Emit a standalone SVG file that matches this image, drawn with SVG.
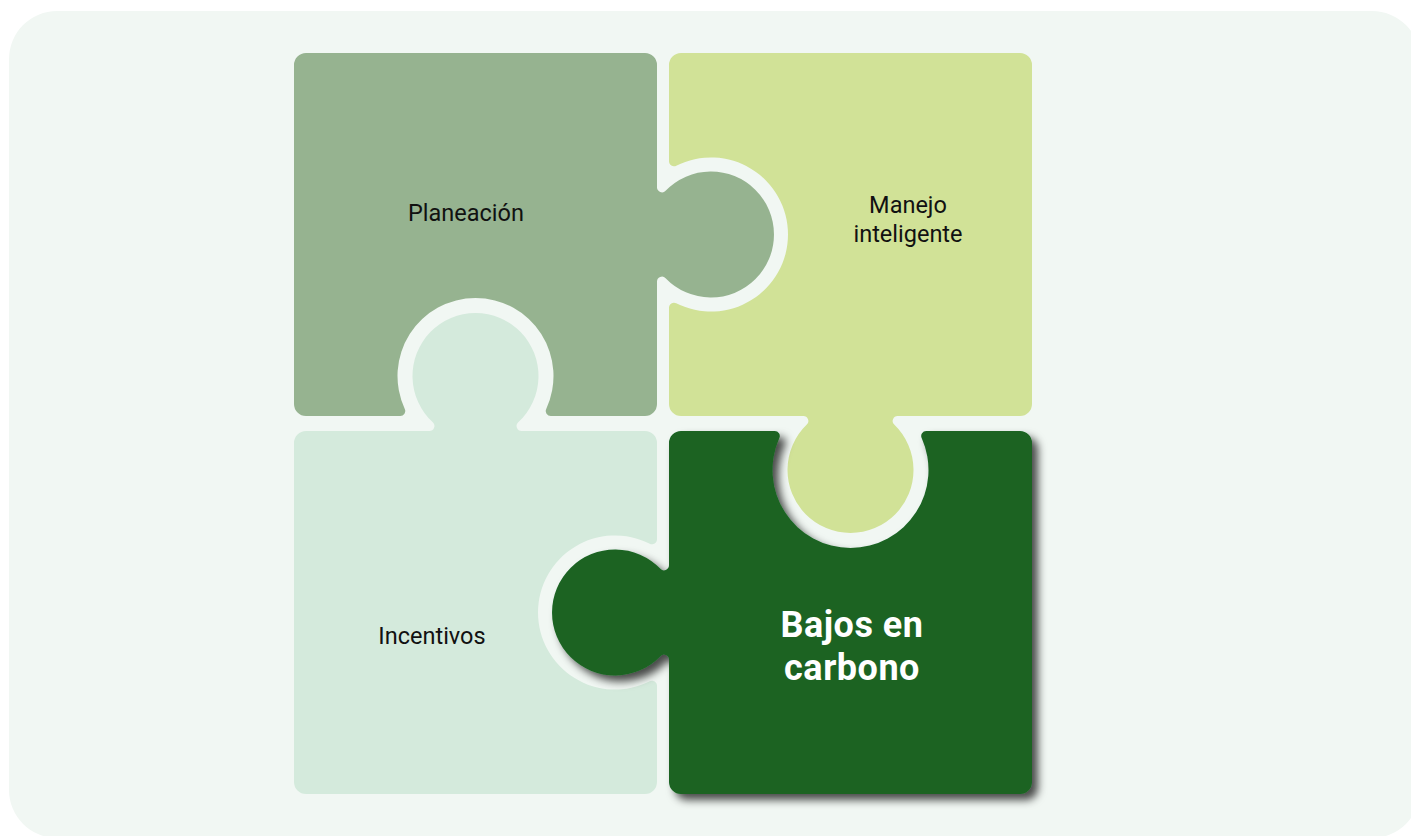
<svg xmlns="http://www.w3.org/2000/svg" width="1411" height="836" viewBox="0 0 1411 836">
<defs>
<style>
.lbl{font-family:Roboto,"Liberation Sans",sans-serif;font-size:23.5px;fill:#111111;text-anchor:middle}
.big{font-family:Roboto,"Liberation Sans",sans-serif;font-size:36px;font-weight:bold;fill:#ffffff;text-anchor:middle;letter-spacing:0.5px}
</style>
<filter id="sh" x="-10%" y="-10%" width="130%" height="130%">
<feDropShadow dx="6" dy="6" stdDeviation="4.5" flood-color="#000" flood-opacity="0.7"/>
</filter>
</defs>
<rect x="0" y="0" width="1411" height="836" fill="#ffffff"/>
<rect x="9" y="11" width="1411" height="827" rx="48" fill="#f1f7f3"/>
<g id="planeacion">
<path fill="#96b390" d="M306,53 H645 A12,12 0 0 1 657,65 V187.35 A5,5 0 0 0 665.6,190.8 A63,63 0 1 1 665.6,278.2 A5,5 0 0 0 657,281.65 V404 A12,12 0 0 1 645,416 H550.76 A5,5 0 0 1 546.23,408.89 A78,78 0 1 0 404.77,408.89 A5,5 0 0 1 400.24,416 H306 A12,12 0 0 1 294,404 V65 A12,12 0 0 1 306,53 Z"/>
<text class="lbl" x="466" y="221">Planeación</text>
</g>
<g id="manejo">
<path fill="#d1e297" d="M681,53 H1020 A12,12 0 0 1 1032,65 V404 A12,12 0 0 1 1020,416 H897.65 A5,5 0 0 0 894.2,424.6 A63,63 0 1 1 806.8,424.6 A5,5 0 0 0 803.35,416 H681 A12,12 0 0 1 669,404 V307.68 A5,5 0 0 1 676.26,303.22 A77,77 0 1 0 676.26,165.78 A5,5 0 0 1 669,161.32 V65 A12,12 0 0 1 681,53 Z"/>
<text class="lbl" x="908" y="213">Manejo</text>
<text class="lbl" x="908" y="242">inteligente</text>
</g>
<g id="incentivos">
<path fill="#d4eadc" d="M306,431 H429.41 A5,5 0 0 0 432.8,422.32 A63,63 0 1 1 518.2,422.32 A5,5 0 0 0 521.59,431 H645 A12,12 0 0 1 657,443 V539.32 A5,5 0 0 1 649.74,543.78 A77,77 0 1 0 649.74,681.22 A5,5 0 0 1 657,685.68 V782 A12,12 0 0 1 645,794 H306 A12,12 0 0 1 294,782 V443 A12,12 0 0 1 306,431 Z"/>
<text class="lbl" x="432" y="644">Incentivos</text>
</g>
<g id="bajos">
<path fill="#1a6424" filter="url(#sh)" d="M681,431 H774.78 A5,5 0 0 1 779.34,438.05 A78,78 0 1 0 921.66,438.05 A5,5 0 0 1 926.22,431 H1020 A12,12 0 0 1 1032,443 V782 A12,12 0 0 1 1020,794 H681 A12,12 0 0 1 669,782 V659.65 A5,5 0 0 0 660.4,656.2 A63,63 0 1 1 660.4,568.8 A5,5 0 0 0 669,565.35 V443 A12,12 0 0 1 681,431 Z"/>
<text class="big" x="852" y="637">Bajos en</text>
<text class="big" x="852" y="680">carbono</text>
</g>
<g id="connectors"></g>
</svg>
